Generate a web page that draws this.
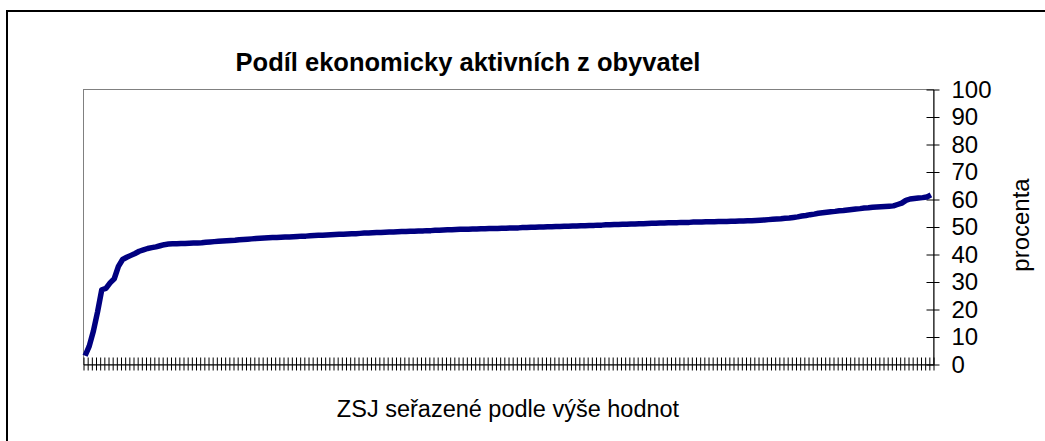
<!DOCTYPE html>
<html lang="cs">
  <head>
    <meta charset="UTF-8" />
    <title>Podíl ekonomicky aktivních z obyvatel</title>
    <script src="https://cdn.jsdelivr.net/npm/d3@7"></script>
    <style>
      body { margin: 0; background: #fff; }
      svg { display: block; font-family: "Liberation Sans", Arial, sans-serif; }
    </style>
  </head>
  <body>
    <script>
      const title = "Podíl ekonomicky aktivních z obyvatel";
      const xTitle = "ZSJ seřazené podle výše hodnot";
      const yTitle = "procenta";
      const yTicks = [0, 10, 20, 30, 40, 50, 60, 70, 80, 90, 100];

      // podíl ekonomicky aktivních v % (ZSJ seřazené vzestupně)
      const values = [
        3, 6.5, 12, 19, 27, 27.5, 29.5, 31, 35.5, 38,
        38.8, 39.5, 40.2, 41, 41.5, 42, 42.3, 42.6, 43, 43.4,
        43.6, 43.7, 43.7, 43.8, 43.8, 43.9, 44, 44, 44.1, 44.3,
        44.4, 44.5, 44.6, 44.7, 44.8, 44.9, 45, 45.2, 45.3, 45.4,
        45.5, 45.6, 45.7, 45.8, 45.9, 46, 46, 46.1, 46.2, 46.2,
        46.3, 46.4, 46.5, 46.5, 46.6, 46.7, 46.8, 46.8, 46.9, 47,
        47.1, 47.2, 47.2, 47.3, 47.4, 47.4, 47.5, 47.6, 47.6, 47.7,
        47.8, 47.8, 47.9, 48, 48, 48.1, 48.2, 48.2, 48.3, 48.3,
        48.4, 48.4, 48.5, 48.5, 48.6, 48.6, 48.7, 48.8, 48.8, 48.9,
        49, 49, 49, 49.1, 49.1, 49.2, 49.2, 49.3, 49.3, 49.3,
        49.4, 49.4, 49.5, 49.5, 49.5, 49.6, 49.6, 49.7, 49.7, 49.8,
        49.8, 49.9, 49.9, 50, 50, 50.1, 50.1, 50.2, 50.2, 50.3,
        50.3, 50.4, 50.4, 50.5, 50.5, 50.6, 50.6, 50.7, 50.7, 50.8,
        50.8, 50.9, 50.9, 51, 51, 51.1, 51.2, 51.2, 51.3, 51.3,
        51.4, 51.4, 51.4, 51.5, 51.5, 51.5, 51.6, 51.6, 51.6, 51.7,
        51.7, 51.7, 51.8, 51.8, 51.8, 51.9, 51.9, 52, 52, 52.1,
        52.1, 52.2, 52.3, 52.4, 52.5, 52.6, 52.7, 52.8, 53, 53.1,
        53.3, 53.5, 53.8, 54, 54.3, 54.5, 54.8, 55, 55.2, 55.4,
        55.5, 55.7, 55.8, 56, 56.2, 56.4, 56.5, 56.7, 56.8, 57,
        57.1, 57.2, 57.3, 57.4, 57.5, 58, 58.5, 59.5, 60, 60.2,
        60.4, 60.5, 60.7, 61.5
      ];

      const width = 1045;
      const height = 441;
      const plot = { left: 83, right: 933, top: 89, bottom: 364 };

      const svg = d3
        .select("body")
        .append("svg")
        .attr("width", width)
        .attr("height", height);

      // rámeček grafu
      svg
        .append("rect")
        .attr("x", 7)
        .attr("y", 11)
        .attr("width", 1200)
        .attr("height", 600)
        .attr("fill", "none")
        .attr("stroke", "#000")
        .attr("stroke-width", 2);

      const x = d3
        .scaleLinear()
        .domain([0, values.length])
        .range([plot.left, plot.right]);
      const y = d3
        .scaleLinear()
        .domain([0, 100])
        .range([plot.bottom, plot.top]);

      // oblast grafu
      svg
        .append("rect")
        .attr("x", plot.left + 0.5)
        .attr("y", plot.top + 0.5)
        .attr("width", plot.right - plot.left)
        .attr("height", plot.bottom - plot.top)
        .attr("fill", "#fff")
        .attr("stroke", "#808080")
        .attr("stroke-width", 1);

      // osa x - značky mezi kategoriemi
      const xAxis = svg
        .append("g")
        .attr("transform", `translate(0.5,${plot.bottom + 0.5})`)
        .call(
          d3
            .axisBottom(x)
            .tickValues(d3.range(values.length + 1))
            .tickFormat("")
            .tickSizeOuter(0)
        );
      xAxis.selectAll(".tick line").attr("y1", -7).attr("y2", 6).attr("stroke", "#000");
      xAxis.select(".domain").attr("stroke", "#000");

      // osa y vpravo
      const yAxis = svg
        .append("g")
        .attr("transform", `translate(${plot.right + 0.5},0.5)`)
        .call(
          d3
            .axisRight(y)
            .tickValues(yTicks)
            .tickSizeOuter(0)
            .tickPadding(12)
        );
      yAxis.selectAll(".tick line").attr("x1", -7).attr("x2", 6).attr("stroke", "#000");
      yAxis.select(".domain").attr("stroke", "#000");
      yAxis
        .selectAll(".tick text")
        .attr("font-size", 24)
        .attr("font-family", "Liberation Sans, Arial, sans-serif")
        .attr("fill", "#000");

      // křivka
      const line = d3
        .line()
        .x((d, i) => x(i + 0.5))
        .y((d) => y(d));
      svg
        .append("path")
        .datum(values)
        .attr("fill", "none")
        .attr("stroke", "#000080")
        .attr("stroke-width", 5.5)
        .attr("stroke-linejoin", "round")
        .attr("d", line);

      // popisky
      svg
        .append("text")
        .attr("x", 468)
        .attr("y", 71)
        .attr("text-anchor", "middle")
        .attr("font-size", 25.5)
        .attr("font-weight", "bold")
        .text(title);

      svg
        .append("text")
        .attr("x", 508)
        .attr("y", 417)
        .attr("text-anchor", "middle")
        .attr("font-size", 23.5)
        .text(xTitle);

      svg
        .append("text")
        .attr("transform", "translate(1029,225) rotate(-90)")
        .attr("text-anchor", "middle")
        .attr("font-size", 24)
        .text(yTitle);
    </script>
  </body>
</html>
